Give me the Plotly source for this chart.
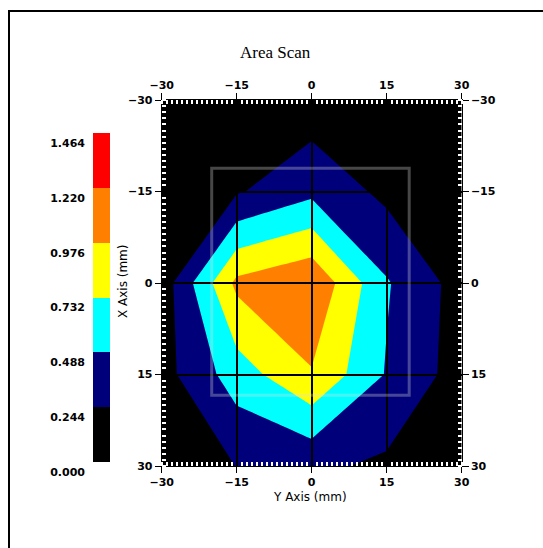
import plotly.graph_objects as go

# ---------------- data ----------------
y_axis_mm = [-30, -15, 0, 15, 30]          # horizontal axis ("Y Axis (mm)")
x_axis_mm = [-30, -15, 0, 15, 30]          # vertical axis ("X Axis (mm)")
amplitude = [                                # rows follow x_axis_mm, columns follow y_axis_mm
    [0.00, 0.03, 0.096, 0.03, 0.00],
    [0.00, 0.22, 0.427, 0.184, 0.00],
    [0.10, 1.034, 1.19, 0.51, 0.144],
    [0.15, 0.61, 0.957, 0.47, 0.136],
    [0.00, 0.25, 0.292, 0.20, 0.00],
]
levels = [0.000, 0.244, 0.488, 0.732, 0.976, 1.220, 1.464]
level_labels = ["0.000", "0.244", "0.488", "0.732", "0.976", "1.220", "1.464"]
band_index = [0, 1, 2, 3, 4, 5]
axis_ticks = [-30, -15, 0, 15, 30]
scan_window_y = [-20, 19.5]
scan_window_x = [-18.8, 18.4]

# ---------------- styles ----------------
band_colors = ["#000000", "#00007A", "#00FFFF", "#FFFF00", "#FF8000", "#FF0000"]
W, H = 543, 548
nb = len(band_colors)
cscale = []
for i, c in enumerate(band_colors):
    cscale.append([i / nb, c])
    cscale.append([(i + 1) / nb, c])

def px_x(p):
    return p / W

def px_y(p):
    return 1 - p / H

main_xdom = [px_x(161.7), px_x(461.7)]
main_ydom = [px_y(466), px_y(100)]
cb_xdom = [px_x(93), px_x(110)]
cb_ydom = [px_y(462), px_y(133)]

tickfont = dict(family="DejaVu Sans", size=11, color="black", weight="bold")
labelfont = dict(family="DejaVu Sans", size=12, color="black")

fig = go.Figure()

fig.add_trace(go.Contour(
    x=y_axis_mm, y=x_axis_mm, z=amplitude,
    xaxis="x", yaxis="y",
    colorscale=cscale, zmin=levels[0], zmax=levels[-1],
    autocontour=False,
    contours=dict(start=levels[1], end=levels[-2], size=levels[1] - levels[0], coloring="fill", showlines=False),
    line=dict(width=0, smoothing=0),
    showscale=False, hoverinfo="skip",
))

# manual colour bar
fig.add_trace(go.Heatmap(
    x=[0, 1], y=levels, z=[[b] for b in band_index],
    xaxis="x2", yaxis="y2",
    colorscale=cscale, zmin=-0.5, zmax=nb - 0.5,
    showscale=False, hoverinfo="skip",
))

# empty trace so the overlay subplot (grid + top/right labels) is drawn
fig.add_trace(go.Scatter(x=[], y=[], xaxis="x3", yaxis="y3", showlegend=False, hoverinfo="skip"))

minor = dict(dtick=1, ticks="inside", ticklen=4, tickwidth=1.5, tickcolor="white", showgrid=False)

fig.update_layout(
    width=W, height=H,
    margin=dict(l=0, r=0, t=0, b=0, pad=0),
    paper_bgcolor="white",
    plot_bgcolor="rgba(0,0,0,0)",
    showlegend=False,
    xaxis=dict(domain=main_xdom, anchor="y", range=[-30, 30], tickvals=axis_ticks, automargin=False,
               ticks="outside", ticklen=6, tickwidth=1, tickcolor="black",
               showline=True, linecolor="black", linewidth=1, mirror="allticks",
               showgrid=False, zeroline=False, tickfont=tickfont, minor=minor),
    yaxis=dict(domain=main_ydom, anchor="x", range=[30, -30], tickvals=axis_ticks, automargin=False,
               ticks="outside", ticklen=6, tickwidth=1, tickcolor="black",
               showline=True, linecolor="black", linewidth=1, mirror="allticks",
               showgrid=False, zeroline=False, tickfont=tickfont, minor=minor),
    xaxis3=dict(domain=main_xdom, anchor="y3", side="top", range=[-30, 30], tickvals=axis_ticks,
                automargin=False,
                ticks="outside", ticklen=6, tickcolor="black", showline=False,
                showgrid=True, gridcolor="black", gridwidth=1.5, zeroline=False, tickfont=tickfont),
    yaxis3=dict(domain=main_ydom, anchor="x3", side="right", range=[30, -30], tickvals=axis_ticks,
                automargin=False,
                ticks="outside", ticklen=6, tickcolor="black", showline=False,
                showgrid=True, gridcolor="black", gridwidth=1.5, zeroline=False, tickfont=tickfont),
    xaxis2=dict(domain=cb_xdom, anchor="y2", range=[0, 1], visible=False, automargin=False),
    yaxis2=dict(domain=cb_ydom, anchor="x2", range=[levels[0], levels[-1]], side="left",
                automargin=False,
                tickvals=levels, ticktext=level_labels, ticks="", showline=False,
                showgrid=False, zeroline=False, tickfont=tickfont,
                ticklabelshift=10, ticklabelstandoff=7),
    annotations=[
        dict(text="Area Scan", xref="paper", yref="paper", x=px_x(275), y=px_y(52),
             xanchor="center", yanchor="middle",
             showarrow=False, font=dict(family="Liberation Serif", size=17, color="black")),
        dict(text="Y Axis (mm)", xref="paper", yref="paper", x=px_x(310), y=px_y(497),
             xanchor="center", yanchor="middle", showarrow=False, font=labelfont),
        dict(text="X Axis (mm)", xref="paper", yref="paper", x=px_x(123), y=px_y(281),
             xanchor="center", yanchor="middle",
             textangle=-90, showarrow=False, font=labelfont),
    ],
    shapes=[
        dict(type="rect", xref="x", yref="y", x0=scan_window_y[0], x1=scan_window_y[1],
             y0=scan_window_x[0], y1=scan_window_x[1],
             line=dict(color="rgba(220,220,220,0.32)", width=3), layer="above"),
        dict(type="rect", xref="paper", yref="paper", x0=px_x(9), x1=1.05, y0=-0.05, y1=px_y(11),
             line=dict(color="black", width=2), layer="above"),
    ],
)

fig.write_html("out.html", config={"displayModeBar": False},
               post_script="document.body.style.margin='0';document.body.style.padding='0';"
                           "document.body.style.overflow='hidden';")
